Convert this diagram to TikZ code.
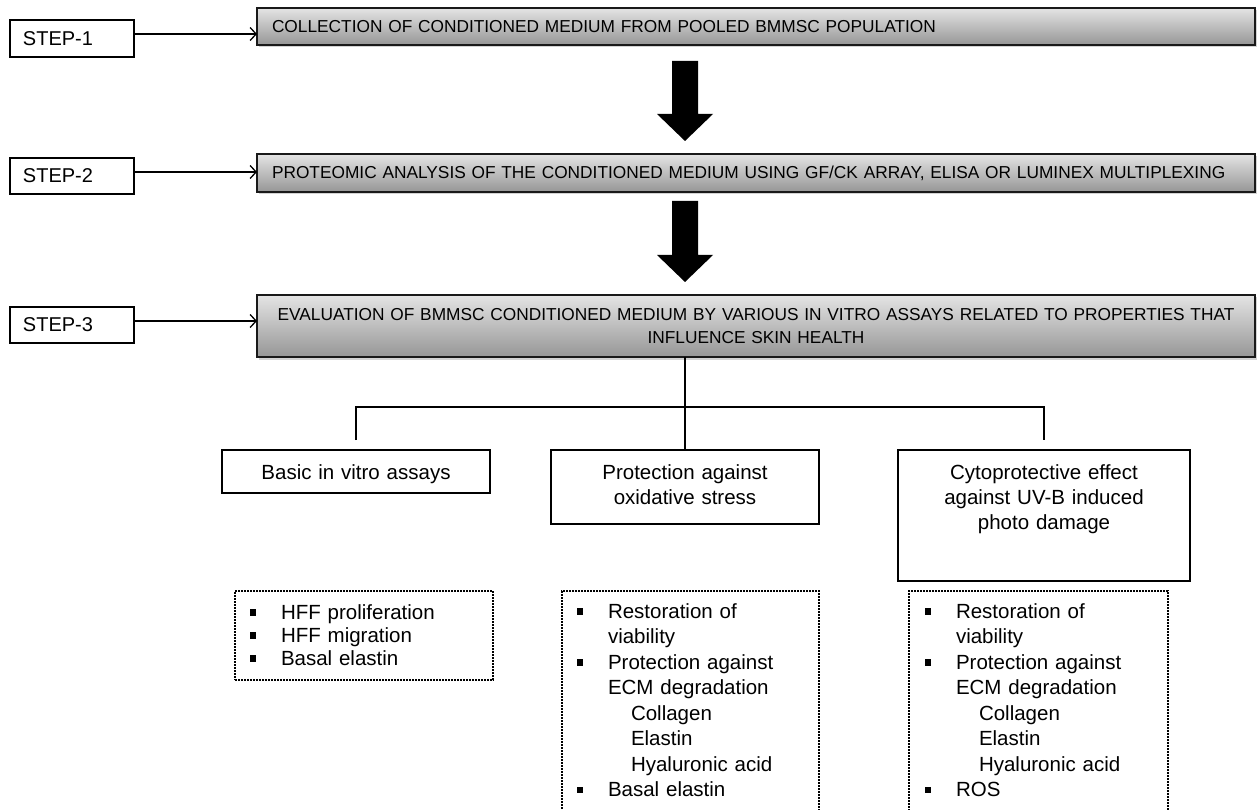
\documentclass[tikz,border=0pt]{standalone}
\usepackage{fontspec}
\setmainfont{Liberation Sans}
\usetikzlibrary{shadows,arrows.meta}
\definecolor{barTop}{RGB}{228,228,228}
\definecolor{barBot}{RGB}{150,150,150}
\newcommand{\bul}{\rule[3.3pt]{6.5pt}{6.5pt}}
\newcommand{\subi}{\hspace*{23pt}}
\begin{document}
\begin{tikzpicture}[x=1pt,y=-1pt,
  every node/.style={inner sep=0pt, outer sep=0pt},
  stepbox/.style={draw, line width=1.4pt, fill=white, anchor=north west,
    minimum height=37pt, text width=98pt, inner xsep=13pt, align=left,
    font=\fontsize{20}{24}\selectfont},
  barbox/.style={draw=black!90, line width=1.8pt, anchor=north west,
    top color=barTop, bottom color=barBot, text width=968pt, inner xsep=15pt,
    drop shadow={shadow xshift=1.5pt, shadow yshift=-2.5pt, opacity=0.35},
    font=\fontsize{17.3}{23}\selectfont},
  catbox/.style={draw, line width=1.3pt, anchor=north, align=center,
    font=\fontsize{20.5}{25}\selectfont, text height=29pt},
  listbox/.style={draw, line width=1.2pt, dash pattern=on 2pt off 1pt,
    anchor=north west, align=left, text height=27pt,
    font=\fontsize{20.5}{25.5}\selectfont},
  arr/.style={-{Straight Barb[length=6pt,width=13pt]}, line width=1.3pt},
  conn/.style={line width=1.4pt},
  bigarrow/.style={fill=black}
]
\useasboundingbox (0,0) rectangle (1258,810);

% step boxes
\node[stepbox] (s1) at (10,20) {STEP-1};
\node[stepbox, minimum height=36pt] (s2) at (10,158) {STEP-2};
\node[stepbox, minimum height=36pt] (s3) at (10,307) {STEP-3};

% header bars
\node[barbox, minimum height=37pt, align=left] (b1) at (257,8)
  {COLLECTION OF CONDITIONED MEDIUM FROM POOLED BMMSC POPULATION};
\node[barbox, minimum height=38pt, align=left] (b2) at (257,154)
  {PROTEOMIC ANALYSIS OF THE CONDITIONED MEDIUM USING GF/CK ARRAY, ELISA OR LUMINEX MULTIPLEXING};
\node[barbox, minimum height=62pt, align=center] (b3) at (257,295)
  {EVALUATION OF BMMSC CONDITIONED MEDIUM BY VARIOUS IN VITRO ASSAYS RELATED TO PROPERTIES THAT\\INFLUENCE SKIN HEALTH};

% step arrows
\draw[arr] ([yshift=4.5pt]s1.east) -- ([yshift=4.5pt]s1.east -| b1.west);
\draw[arr] ([yshift=4pt]s2.east) -- ([yshift=4pt]s2.east -| b2.west);
\draw[arr] ([yshift=4pt]s3.east) -- ([yshift=4pt]s3.east -| b3.west);

% big block arrows
\fill[bigarrow] (672,61) -- (698,61) -- (698,114) -- (713,114) -- (685,141)
  -- (657,114) -- (672,114) -- cycle;
\fill[bigarrow] (672,201) -- (698,201) -- (698,255) -- (713,255) -- (685,282)
  -- (657,255) -- (672,255) -- cycle;

% category boxes
\node[catbox, text width=268pt, text depth=14pt] (o1) at (356,450)
  {Basic in vitro assays};
\node[catbox, text width=268pt, text depth=45pt] (o2) at (685,450)
  {Protection against\\oxidative stress};
\node[catbox, text width=292pt, text depth=102pt] (o3) at (1044,450)
  {Cytoprotective effect\\against UV-B induced\\photo damage};

% tree connectors
\draw[conn] (b3.south -| o2.north) -- (o2.north);
\draw[conn] ([yshift=10pt]o1.north) -- ++(0,-33) -| ([yshift=10pt]o3.north);

% lists
\node[listbox, text width=229pt, inner xsep=14.5pt, text height=28pt,
  text depth=61pt, font=\fontsize{20.5}{23}\selectfont] (lA) at (235,591)
  {\begin{tabular}[t]{@{}p{31.5pt}@{}l@{}}
   \bul & HFF proliferation\\
   \bul & HFF migration\\
   \bul & Basal elastin
   \end{tabular}};
\node[listbox, text width=228pt, inner xsep=14.5pt, text depth=230pt] (lB) at (562,591)
  {\begin{tabular}[t]{@{}p{31.5pt}@{}l@{}}
   \bul & Restoration of\\
        & viability\\
   \bul & Protection against\\
        & ECM degradation\\
        & \subi Collagen\\
        & \subi Elastin\\
        & \subi Hyaluronic acid\\
   \bul & Basal elastin
   \end{tabular}};
\node[listbox, text width=228pt, inner xsep=15.5pt, text depth=230pt] (lC) at (909,591)
  {\begin{tabular}[t]{@{}p{31.5pt}@{}l@{}}
   \bul & Restoration of\\
        & viability\\
   \bul & Protection against\\
        & ECM degradation\\
        & \subi Collagen\\
        & \subi Elastin\\
        & \subi Hyaluronic acid\\
   \bul & ROS
   \end{tabular}};
\end{tikzpicture}
\end{document}
